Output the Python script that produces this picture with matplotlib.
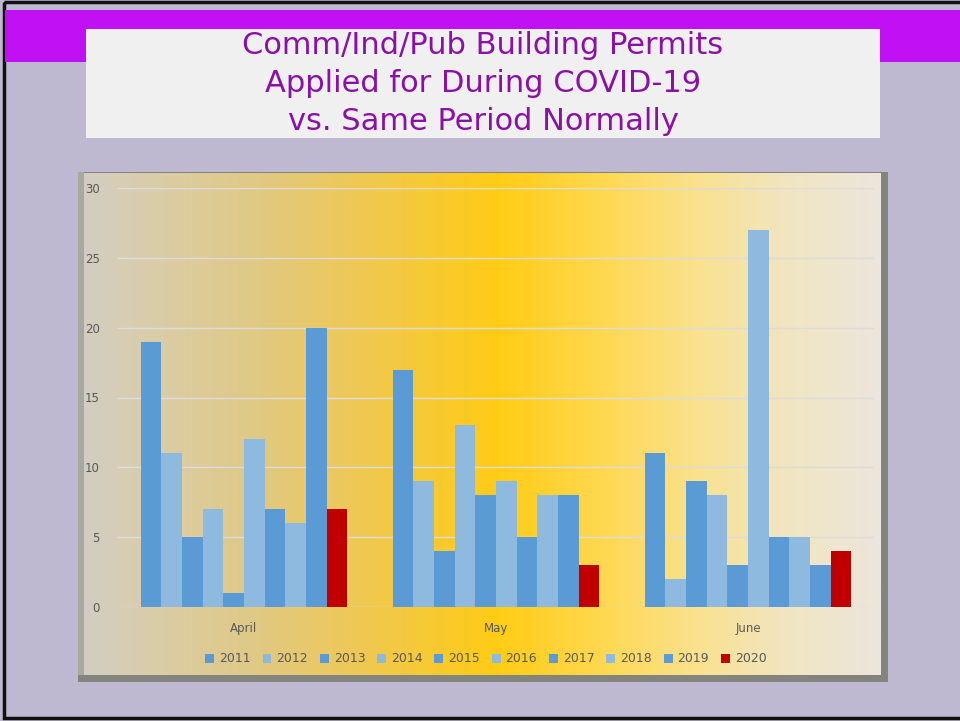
import numpy as np
import matplotlib.pyplot as plt
from matplotlib.patches import Rectangle
from matplotlib.colors import LinearSegmentedColormap

months = ['April', 'May', 'June']
years = ['2011', '2012', '2013', '2014', '2015', '2016', '2017', '2018', '2019', '2020']
permits = {
    '2011': [19, 17, 11],
    '2012': [11, 9, 2],
    '2013': [5, 4, 9],
    '2014': [7, 13, 8],
    '2015': [1, 8, 3],
    '2016': [12, 9, 27],
    '2017': [7, 5, 5],
    '2018': [6, 8, 5],
    '2019': [20, 8, 3],
    '2020': [7, 3, 4],
}
title_lines = ['Comm/Ind/Pub Building Permits',
               'Applied for During COVID-19',
               'vs. Same Period Normally']

W, H = 960, 721
DARK_BLUE = '#5B9BD5'
LIGHT_BLUE = '#8FBAE0'
RED = '#C00000'
TEXT_GREY = '#595959'


def fig_box(x0, y0, x1, y1):
    # pixel box (top-left origin) -> figure fraction rect
    return [x0 / W, 1 - y1 / H, (x1 - x0) / W, (y1 - y0) / H]


fig = plt.figure(figsize=(W / 100, H / 100), dpi=100)
fig.patch.set_facecolor('#BEB8D0')

# background / decoration layer in pixel coordinates
bg = fig.add_axes([0, 0, 1, 1])
bg.axis('off')

bg.add_patch(Rectangle((4, 2), 960, 716, fill=False, edgecolor='#111111', lw=2.5, zorder=1))
bg.add_patch(Rectangle((5, 10), 960, 52, color='#C210F4', lw=0, zorder=1))
bg.add_patch(Rectangle((86, 29), 794, 109, color='#F0F0F0', lw=0, zorder=2))
for k, line in enumerate(title_lines):
    bg.text(483, 45 + k * 38.5, line, ha='center', va='center',
            fontsize=22, color='#8B10A6', family='DejaVu Sans', zorder=3)

# chart panel with bevel / shadow
bg.add_patch(Rectangle((78, 172), 810, 510, color='#84847E', lw=0, zorder=1))
bg.add_patch(Rectangle((78, 172), 6, 503, color='#A8A8A2', lw=0, zorder=2))
stops = [(0.0, '#D2CDC2'), (0.06, '#D8CDB0'), (0.22, '#E1C983'),
         (0.38, '#F3C846'), (0.52, '#FFCC14'), (0.66, '#FFD955'),
         (0.78, '#F9E293'), (0.88, '#F1E5C0'), (1.0, '#ECE6DC')]
cmap = LinearSegmentedColormap.from_list('panel', stops)
grad = np.tile(np.linspace(0, 1, 512), (2, 1))
bg.imshow(grad, cmap=cmap, aspect='auto', extent=(84, 881, 675, 173),
          interpolation='bilinear', zorder=3)
bg.set_xlim(0, W)
bg.set_ylim(H, 0)

# bar chart
ax = fig.add_axes(fig_box(118, 188, 874, 607))
ax.set_facecolor('none')
n = len(years)
bar_w = 0.082
x = np.arange(len(months))
for i, yr in enumerate(years):
    if yr == '2020':
        c = RED
    elif i % 2 == 0:
        c = DARK_BLUE
    else:
        c = LIGHT_BLUE
    ax.bar(x - bar_w * n / 2 + bar_w * (i + 0.5), permits[yr], bar_w, color=c,
           label=yr, zorder=3)

ax.set_xlim(-0.5, 2.5)
ax.set_ylim(0, 30)
ax.set_yticks(range(0, 31, 5))
ax.grid(axis='y', color='#DCDCDC', lw=1, zorder=0)
ax.set_xticks(x)
ax.set_xticklabels(months)
for s in ax.spines.values():
    s.set_visible(False)
ax.tick_params(length=0, colors=TEXT_GREY, labelsize=8.5)
ax.tick_params(axis='y', pad=13)
ax.tick_params(axis='x', pad=11)

leg = ax.legend(loc='center', bbox_to_anchor=(486 / W, 1 - 659 / H),
                bbox_transform=fig.transFigure, ncol=n, frameon=False,
                fontsize=9, handlelength=0.7, handleheight=0.7,
                handletextpad=0.4, columnspacing=0.95)
for t in leg.get_texts():
    t.set_color(TEXT_GREY)

fig.savefig('out.png', dpi=100)
